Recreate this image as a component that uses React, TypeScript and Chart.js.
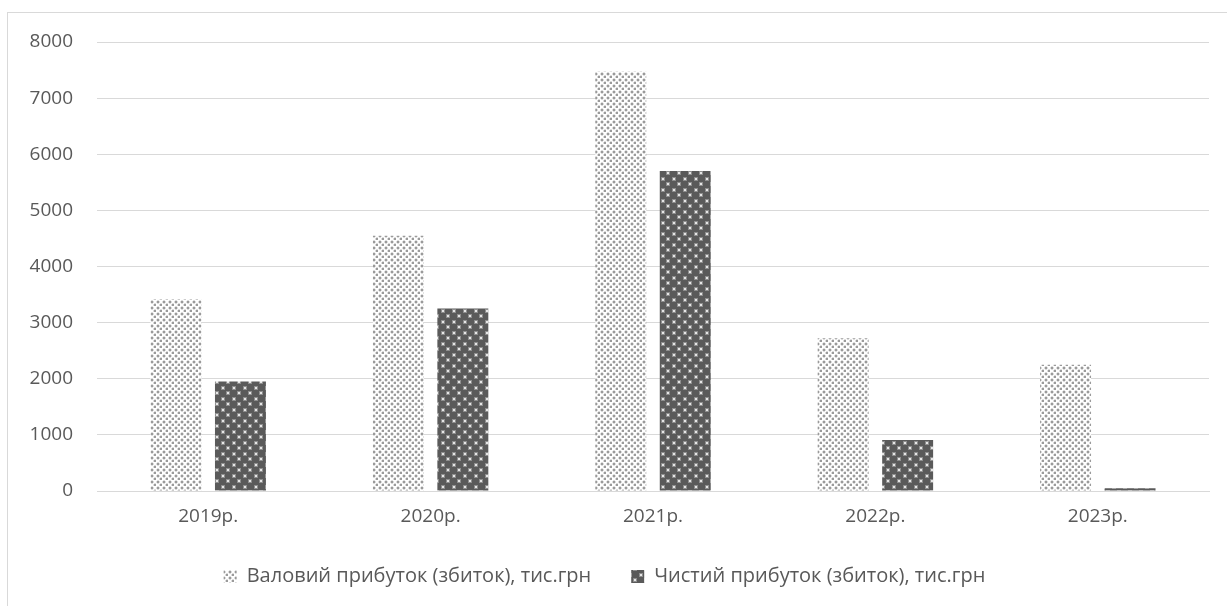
import React, { useEffect, useRef } from "react";
import { Chart, registerables } from "chart.js";

Chart.register(...registerables);

const categories = ["2019р.", "2020р.", "2021р.", "2022р.", "2023р."];
const grossProfit = [3410, 4550, 7470, 2720, 2250];
const netProfit = [1950, 3250, 5700, 910, 50];
const seriesLabels = [
  "Валовий прибуток (збиток), тис.грн",
  "Чистий прибуток (збиток), тис.грн",
];
const yMin = 0;
const yMax = 8000;
const yStep = 1000;

const FONT = "'Open Sans', 'Noto Sans', sans-serif";
const TEXT = "#595959";
const GRID = "#d9d9d9";

function makeLightPattern(ctx: CanvasRenderingContext2D) {
  const c = document.createElement("canvas");
  c.width = 6;
  c.height = 6;
  const g = c.getContext("2d")!;
  g.fillStyle = "#ffffff";
  g.fillRect(0, 0, 6, 6);
  const dot = (x: number, y: number) => {
    g.fillStyle = "#dedede";
    g.fillRect(x - 1, y, 4, 2);
    g.fillRect(x, y - 1, 2, 4);
    g.fillStyle = "#9a9a9a";
    g.fillRect(x, y, 2, 2);
  };
  dot(1, 1);
  dot(4, 4);
  return ctx.createPattern(c, "repeat")!;
}

function makeDarkPattern(ctx: CanvasRenderingContext2D) {
  const c = document.createElement("canvas");
  c.width = 11;
  c.height = 11;
  const g = c.getContext("2d")!;
  g.fillStyle = "#5a5a5a";
  g.fillRect(0, 0, 11, 11);
  const dot = (x: number, y: number) => {
    g.fillStyle = "#8e8e8e";
    g.fillRect(x - 1, y - 1, 4, 4);
    g.fillStyle = "#e6e6e6";
    g.fillRect(x, y, 2, 2);
  };
  dot(2, 2);
  dot(7, 7);
  return ctx.createPattern(c, "repeat")!;
}

export default function App() {
  const ref = useRef<HTMLCanvasElement | null>(null);

  useEffect(() => {
    const canvas = ref.current!;
    const ctx = canvas.getContext("2d")!;
    const light = makeLightPattern(ctx);
    const dark = makeDarkPattern(ctx);

    const chart = new Chart(ctx, {
      type: "bar",
      data: {
        labels: categories,
        datasets: [
          {
            label: seriesLabels[0],
            data: grossProfit,
            backgroundColor: light as any,
            borderWidth: 0,
            barPercentage: 0.79,
            categoryPercentage: 0.58,
          },
          {
            label: seriesLabels[1],
            data: netProfit,
            backgroundColor: dark as any,
            borderWidth: 0,
            barPercentage: 0.79,
            categoryPercentage: 0.58,
          },
        ],
      },
      options: {
        animation: false,
        responsive: false,
        devicePixelRatio: 1,
        layout: { padding: { left: 0, right: 18, top: 42, bottom: 9.5 } },
        plugins: {
          legend: {
            position: "bottom",
            labels: {
              font: { family: FONT, size: 20 },
              color: TEXT,
              boxWidth: 13,
              boxHeight: 13,
              padding: 40,
            },
          },
          tooltip: { enabled: false },
        },
        scales: {
          x: {
            grid: { display: false, drawTicks: false },
            border: { display: true, color: GRID, width: 1 },
            ticks: {
              font: { family: FONT, size: 19 },
              color: TEXT,
              padding: 14,
              autoSkip: false,
              maxRotation: 0,
            },
            afterFit: (s: any) => {
              s.height = 35.5;
            },
          },
          y: {
            min: yMin,
            max: yMax,
            ticks: {
              stepSize: yStep,
              font: { family: FONT, size: 19 },
              color: TEXT,
              padding: 24,
              callback: (v: any) => String(v),
            },
            grid: { color: GRID, lineWidth: 1, drawTicks: false },
            border: { display: false },
            afterFit: (s: any) => {
              s.width = 97;
            },
          },
        },
      },
    });
    return () => chart.destroy();
  }, []);

  return (
    <div
      style={{
        position: "absolute",
        left: 0,
        top: 0,
        width: 1227,
        height: 606,
        overflow: "hidden",
        background: "#ffffff",
      }}
    >
      <div
        style={{
          position: "absolute",
          left: 7,
          top: 12,
          width: 1260,
          height: 640,
          border: "1px solid #d9d9d9",
        }}
      />
      <canvas
        ref={ref}
        width={1227}
        height={606}
        style={{ position: "absolute", left: 0, top: 0, width: 1227, height: 606 }}
      />
    </div>
  );
}
